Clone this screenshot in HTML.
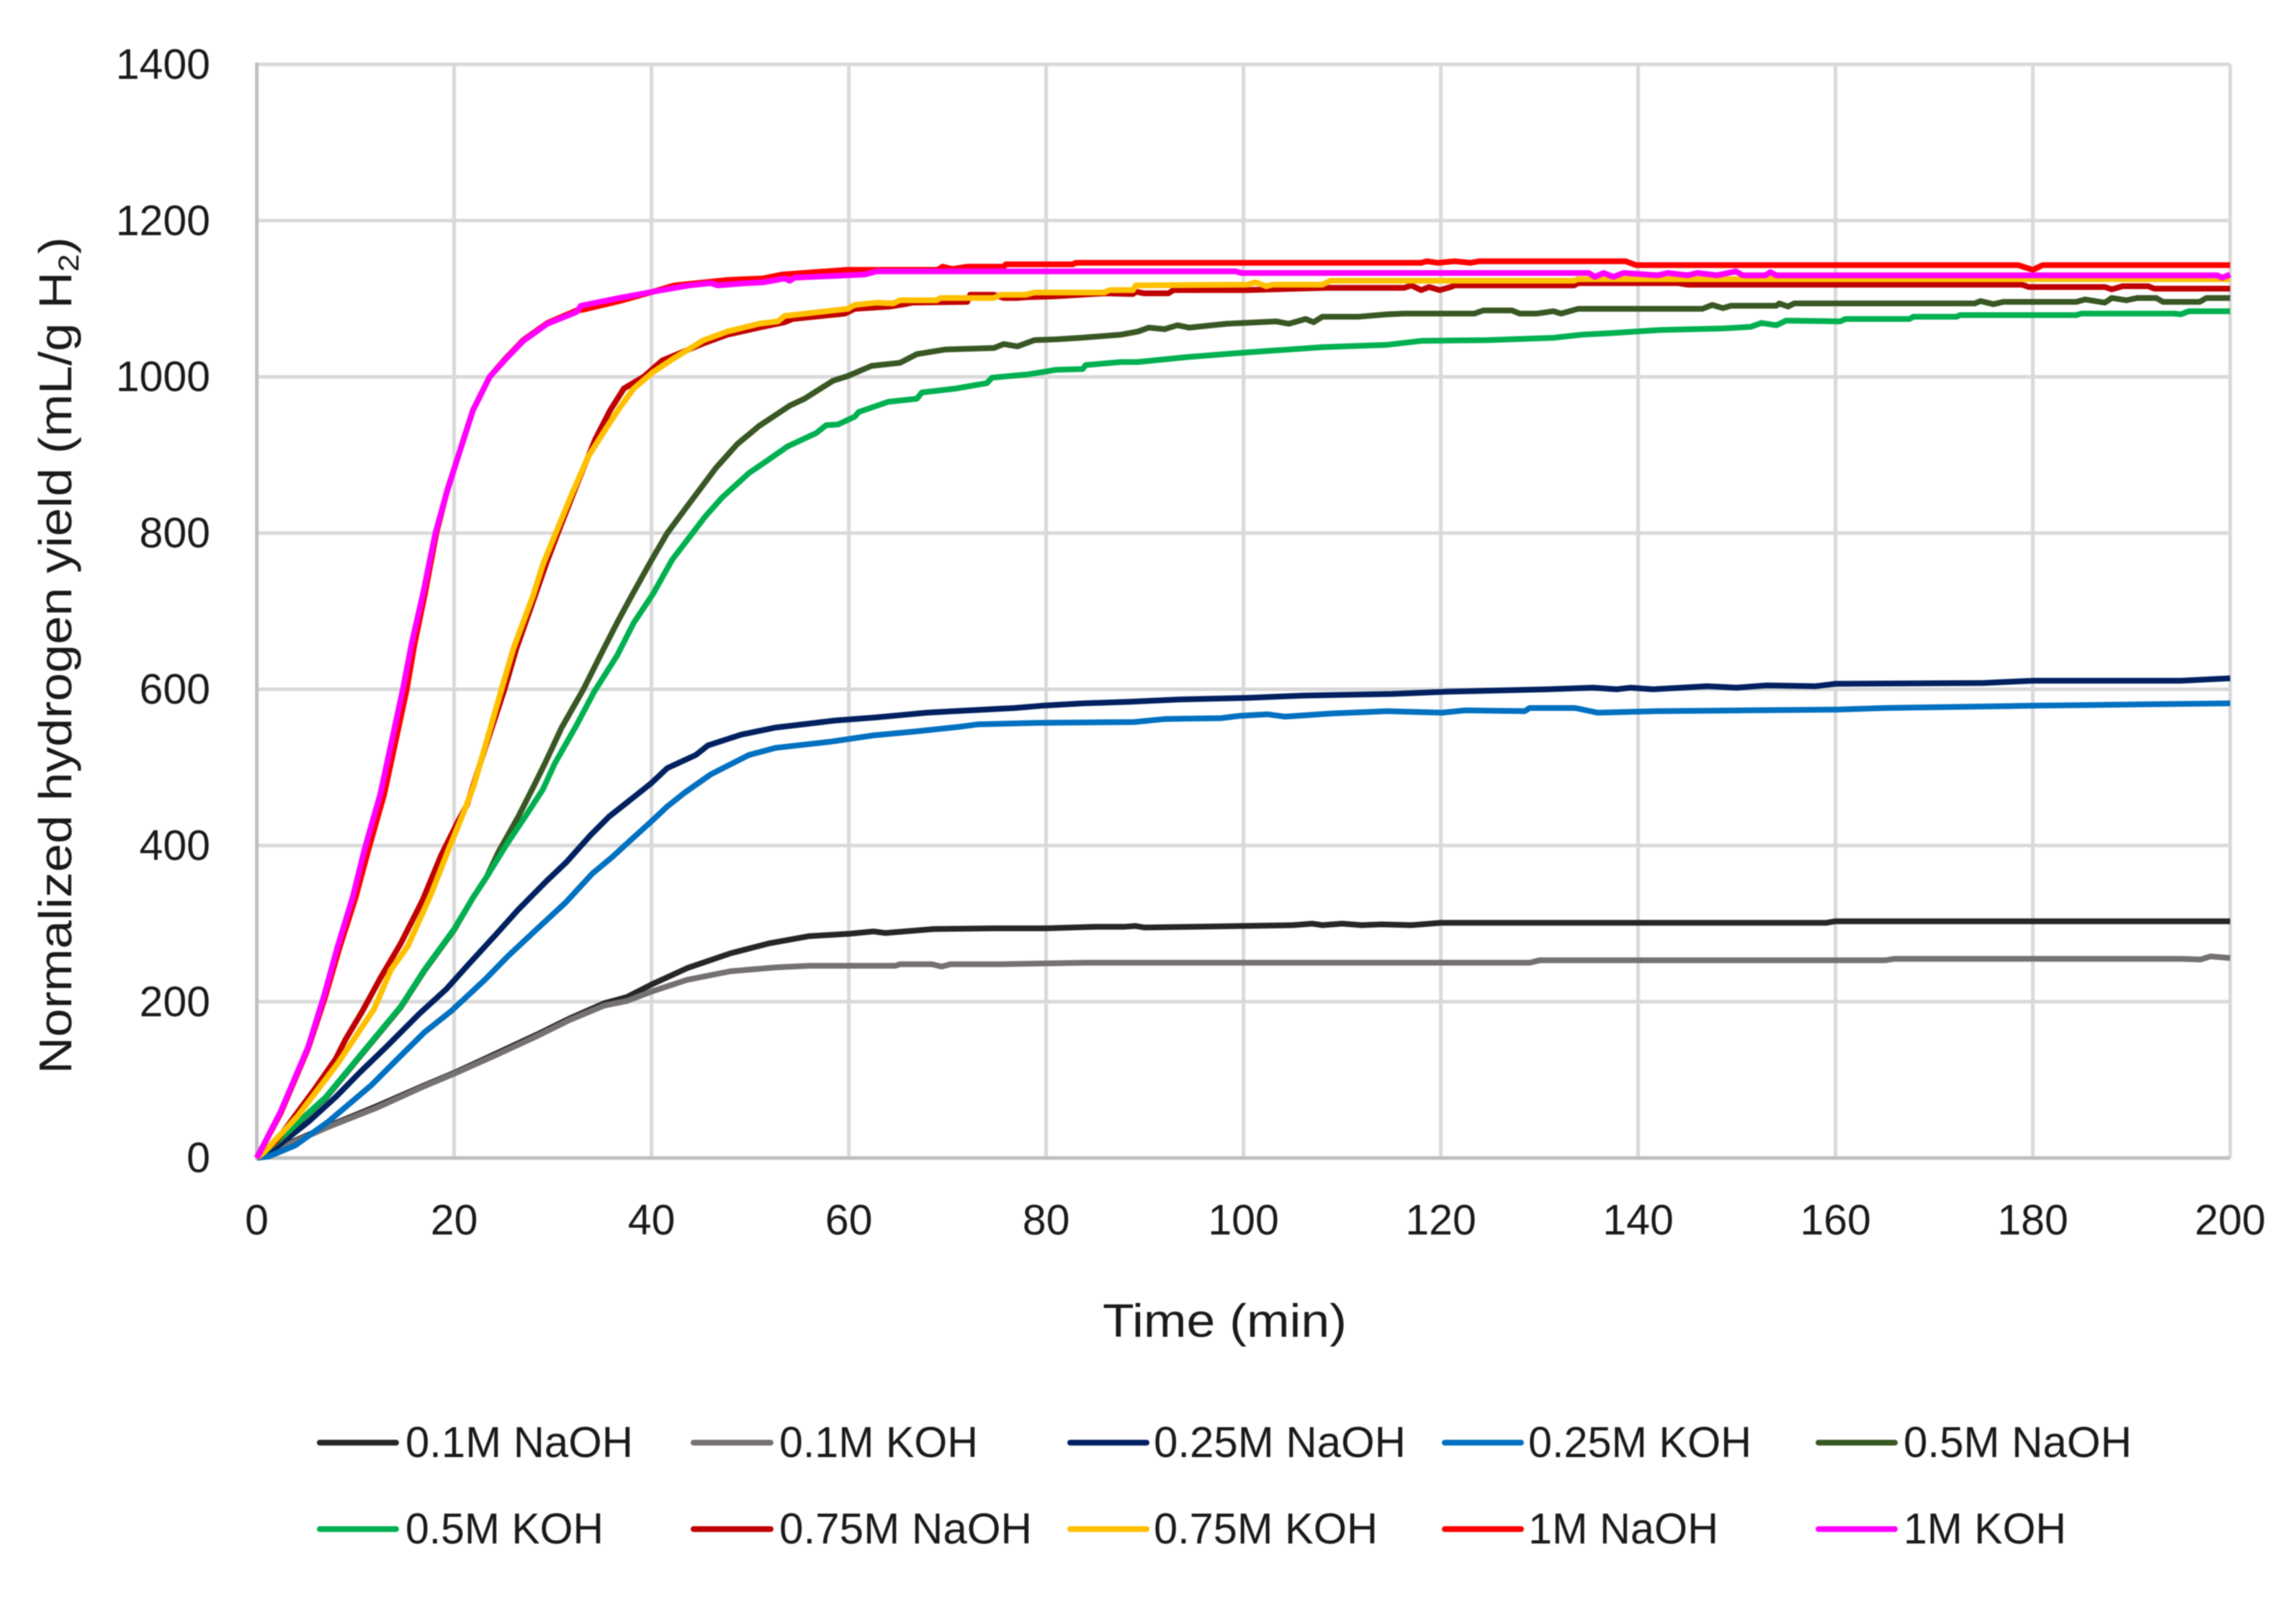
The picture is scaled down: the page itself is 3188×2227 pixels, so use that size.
<!DOCTYPE html>
<html lang="en">
<head>
<meta charset="utf-8">
<title>Normalized hydrogen yield vs time</title>
<style>
html,body{margin:0;padding:0;background:#fff;}
svg{display:block;filter:blur(0.8px);}
text{font-family:"Liberation Sans",sans-serif;fill:#1a1a1a;}
</style>
</head>
<body>
<svg id="chart" xmlns="http://www.w3.org/2000/svg" width="3188" height="2227" viewBox="0 0 3188 2227">
  <rect x="0" y="0" width="3188" height="2227" fill="#ffffff"/>
  <g id="grid"></g>
  <g id="axes"></g>
  <g id="yticks"></g>
  <g id="xticks"></g>
  <g id="series"></g>

  <text transform="translate(99,1491) rotate(-90)" font-size="64" textLength="1162" lengthAdjust="spacingAndGlyphs">Normalized hydrogen yield (mL/g H<tspan font-size="40" dy="10">2</tspan><tspan dy="-10">)</tspan></text>
  <text x="1531" y="1856" font-size="65" textLength="339" lengthAdjust="spacingAndGlyphs">Time (min)</text>

  <g font-size="60">
    <g>
      <line x1="444" y1="2003" x2="550" y2="2003" stroke="#262626" stroke-width="8" stroke-linecap="round"/>
      <text x="563" y="2023" textLength="316" lengthAdjust="spacingAndGlyphs">0.1M NaOH</text>
    </g>
    <g>
      <line x1="963" y1="2003" x2="1070" y2="2003" stroke="#767171" stroke-width="8" stroke-linecap="round"/>
      <text x="1082" y="2023" textLength="276" lengthAdjust="spacingAndGlyphs">0.1M KOH</text>
    </g>
    <g>
      <line x1="1486" y1="2003" x2="1592" y2="2003" stroke="#002060" stroke-width="8" stroke-linecap="round"/>
      <text x="1602" y="2023" textLength="350" lengthAdjust="spacingAndGlyphs">0.25M NaOH</text>
    </g>
    <g>
      <line x1="2006" y1="2003" x2="2112" y2="2003" stroke="#0070c0" stroke-width="8" stroke-linecap="round"/>
      <text x="2122" y="2023" textLength="310" lengthAdjust="spacingAndGlyphs">0.25M KOH</text>
    </g>
    <g>
      <line x1="2525" y1="2003" x2="2631" y2="2003" stroke="#385723" stroke-width="8" stroke-linecap="round"/>
      <text x="2643" y="2023" textLength="317" lengthAdjust="spacingAndGlyphs">0.5M NaOH</text>
    </g>
    <g>
      <line x1="444" y1="2123" x2="550" y2="2123" stroke="#00b050" stroke-width="8" stroke-linecap="round"/>
      <text x="563" y="2143" textLength="275" lengthAdjust="spacingAndGlyphs">0.5M KOH</text>
    </g>
    <g>
      <line x1="963" y1="2123" x2="1070" y2="2123" stroke="#c00000" stroke-width="8" stroke-linecap="round"/>
      <text x="1082" y="2143" textLength="351" lengthAdjust="spacingAndGlyphs">0.75M NaOH</text>
    </g>
    <g>
      <line x1="1486" y1="2123" x2="1592" y2="2123" stroke="#ffc000" stroke-width="8" stroke-linecap="round"/>
      <text x="1602" y="2143" textLength="311" lengthAdjust="spacingAndGlyphs">0.75M KOH</text>
    </g>
    <g>
      <line x1="2006" y1="2123" x2="2112" y2="2123" stroke="#ff0000" stroke-width="8" stroke-linecap="round"/>
      <text x="2122" y="2143" textLength="264" lengthAdjust="spacingAndGlyphs">1M NaOH</text>
    </g>
    <g>
      <line x1="2525" y1="2123" x2="2631" y2="2123" stroke="#ff00ff" stroke-width="8" stroke-linecap="round"/>
      <text x="2643" y="2143" textLength="226" lengthAdjust="spacingAndGlyphs">1M KOH</text>
    </g>
  </g>
</svg>

<script>
// Axis tick labels
const xTickLabels = [0, 20, 40, 60, 80, 100, 120, 140, 160, 180, 200];
const yTickLabels = [0, 200, 400, 600, 800, 1000, 1200, 1400];

// Series as [time (min), yield (mL/g H2)] readings
const naoh01 = [[0,0],[3.85,22],[7.3,41],[12.1,66],[17,93],[20.2,110],[24.3,134],[28.4,158],[31.6,178],[35.2,198],[37.5,206],[40,222],[43.6,243],[48,262],[52,275],[56,284],[60.1,287],[62.5,290],[63.7,288],[68.6,293],[74.7,294],[80,294],[85,296],[88,296],[89,297],[90,295],[100,297],[105,298],[107,300],[108,298],[110,300],[112,298],[114,299],[117,298],[120,301],[159,301],[160,303],[200,303]];
const koh01 = [[0,0],[3.85,21],[7.3,40],[12.1,64],[17,92],[20.2,109],[24.3,132],[28.4,156],[31.6,176],[35.2,195],[37.5,201],[40,213],[43.6,228],[48,239],[52.6,244],[56,246],[64.7,246],[65.2,248],[68.4,248],[69.4,245],[70.3,248],[75.4,248],[84,250],[129,250],[130,253],[165,253],[166,255],[195,255],[197,254],[198,258],[200,256]];
const naoh025 = [[0,0],[2,14],[5.3,47],[8,78],[10.4,109],[13.1,142],[16.5,185],[19.2,216],[21.4,247],[24.3,287],[26.5,318],[29.4,355],[31.4,379],[33.8,413],[35.7,437],[37.5,455],[40,480],[41.6,499],[44.5,516],[45.7,528],[49.1,542],[52.6,551],[58.6,560],[62.8,564],[67.9,570],[70.7,572],[76.8,576],[79.6,579],[83.8,582],[88.4,584],[93.5,587],[100.5,589],[106.1,592],[115,594],[120.8,597],[130.8,600],[135.4,602],[137.8,600],[139.2,602],[141.5,600],[147,604],[150,602],[153,605],[158,604],[160,607],[175,608],[180,611],[195,611],[200,614]];
const koh025 = [[0,0],[1.2,2],[3.9,16],[7.3,47],[11.6,93],[13.8,121],[17,161],[19.7,188],[23.1,228],[25.5,259],[28.9,299],[31.3,327],[34,364],[36,385],[37.9,407],[40,431],[41.6,450],[43.3,467],[46,491],[47.7,502],[49.9,516],[52.6,525],[58.2,533],[62.5,541],[66.7,546],[71.2,552],[73,555],[79.1,557],[88.9,558],[92.1,562],[97.7,563],[99.6,566],[102.4,568],[104.2,565],[108.9,569],[114.5,572],[120.1,570],[122.4,573],[128.5,572],[129,576],[133.6,576],[135.9,570],[141.9,572],[160,574],[165,576],[180,579],[200,582]];
const naoh05 = [[0,0],[2.4,24],[7,77],[10.2,126],[14.6,193],[17,240],[20,292],[21.9,333],[23.3,360],[24.5,392],[26.5,437],[28.1,477],[29.2,505],[30.9,551],[33.1,600],[34.8,643],[36.5,685],[38,720],[39.9,763],[41.6,800],[43.6,834],[46.5,883],[48.7,914],[50.9,937],[54,963],[55.5,972],[58.4,995],[59.9,1001],[62.3,1014],[65.2,1018],[66.9,1029],[69.8,1035],[74.7,1037],[75.7,1042],[77.1,1039],[78.8,1047],[81,1048],[83.5,1050],[87.6,1054],[89.3,1058],[90.4,1063],[92,1061],[93.3,1066],[94.5,1063],[98.3,1068],[103.3,1071],[104.6,1068],[106.3,1074],[107.1,1070],[108,1077],[111.7,1077],[114.6,1080],[116.3,1081],[123.4,1081],[124.3,1085],[127.2,1085],[128,1081],[129.7,1081],[131.4,1084],[132.2,1081],[133.9,1087],[146.5,1087],[147.5,1092],[148.6,1088],[149.4,1091],[154,1091],[154.3,1094],[155.2,1090],[155.8,1094],[174.1,1094],[174.7,1097],[176,1093],[177,1096],[184.4,1096],[185.3,1099],[187.3,1095],[188,1101],[189.5,1098],[190.6,1101],[192.5,1101],[193.2,1096],[196.9,1096],[197.6,1101],[200,1101]];
const koh05 = [[0,0],[2.4,25],[7,78],[10.2,127],[14.6,194],[17,241],[20,293],[21.9,333],[23.3,360],[25.3,401],[27.2,437],[29,472],[30.2,505],[32.4,554],[34.2,597],[36.5,643],[38.2,685],[40.2,723],[42.1,766],[43.8,794],[45.5,822],[47.2,846],[49.9,877],[51.3,889],[53.8,911],[56.7,928],[57.7,938],[58.9,939],[60.6,949],[61,955],[64,968],[66.9,972],[67.4,980],[70.8,985],[74,992],[74.5,999],[78.1,1003],[81,1009],[83.7,1010],[84,1015],[87.6,1019],[89.3,1019],[94,1025],[100,1031],[108,1038],[114.6,1041],[118,1046],[124.7,1047],[131.4,1050],[134.3,1054],[137.3,1056],[142.3,1060],[148.6,1062],[151.4,1064],[152.5,1069],[154,1066],[155,1072],[160.5,1071],[161,1074],[167.5,1074],[167.9,1077],[172.3,1077],[172.6,1079],[184.4,1079],[184.9,1081],[194.3,1081],[195,1080],[195.8,1084],[200,1084]];
const naoh075 = [[0,0],[2,22],[5.8,87],[8,127],[9,152],[10.7,188],[12.6,232],[14.6,275],[16.8,330],[18.7,388],[20.4,431],[21.3,452],[23.2,527],[25.1,600],[26.3,652],[28.2,720],[29.3,760],[30.5,800],[32.4,861],[34.3,920],[35.8,957],[37.2,985],[39.2,1000],[41.1,1021],[45.3,1043],[47.7,1054],[50.9,1063],[53.5,1070],[54.3,1074],[59.6,1081],[60.6,1087],[64.2,1090],[65.7,1093],[66.4,1095],[72,1096],[72.3,1105],[74.7,1105],[75.7,1101],[77.1,1101],[78.1,1102],[80.8,1103],[85.9,1107],[88.8,1106],[89.1,1109],[89.9,1107],[92.4,1107],[92.9,1111],[100.4,1111],[108.4,1114],[116.3,1114],[117,1117],[118,1111],[118.8,1115],[119.9,1111],[121,1115],[121.4,1117],[133.5,1117],[133.9,1120],[144,1120],[145,1118],[178.9,1118],[179.6,1115],[187.3,1115],[188,1112],[189.1,1116],[191.7,1116],[192.3,1113],[200,1113]];
const koh075 = [[0,0],[0.7,7],[4.1,53],[8.2,121],[11.9,191],[13.6,241],[15.3,271],[17.7,339],[19.4,394],[20.6,431],[21.2,450],[22,477],[24.8,600],[26,652],[28,720],[29,760],[30.3,800],[31.9,849],[33.6,898],[35.3,932],[36.75,960],[38.2,985],[40.15,1006],[42.3,1024],[45.3,1047],[47.7,1058],[50.9,1068],[52.8,1071],[53.5,1078],[59.9,1087],[60.6,1092],[62.8,1095],[64.5,1094],[65.2,1098],[68.9,1098],[69.3,1101],[74.7,1101],[75.4,1105],[77.9,1105],[78.8,1108],[85.9,1108],[86.4,1111],[88.8,1111],[89.1,1117],[100.4,1118],[101.2,1121],[102.3,1116],[103,1118],[108,1118],[108.8,1123],[133.5,1123],[133.9,1125],[200,1125]];
const naoh1 = [[0,0],[2.4,57],[5.2,140],[6.9,205],[8.4,270],[10,333],[11.3,394],[12.1,430],[12.9,465],[15.2,600],[16,659],[17,720],[18.2,800],[19.3,855],[20.4,898],[21.9,957],[23.6,1000],[25.1,1022],[27,1047],[29.45,1069],[32.4,1085],[33.1,1086],[36.75,1097],[40.15,1109],[42.3,1117],[47.7,1124],[51.3,1126],[53.3,1131],[59.9,1137],[69,1137],[69.5,1141],[70.5,1138],[72,1141],[75.7,1141],[75.9,1144],[82.7,1144],[83,1146],[118,1146],[118.6,1148],[119.7,1146],[121.4,1148],[123,1146],[123.9,1148],[138.7,1148],[139.8,1143],[178.5,1143],[180,1137],[181,1143],[200,1143]];
const koh1 = [[0,0],[2.4,59],[5.2,142],[6.8,207],[8.2,271],[9.7,333],[10.9,394],[11.7,430],[12.5,465],[14.8,600],[15.7,659],[16.8,720],[18.1,800],[19.2,850],[20.4,898],[21.9,957],[23.6,1000],[25.1,1021],[27,1046],[29.45,1068],[32.4,1083],[32.85,1091],[36.75,1101],[40.15,1109],[43.8,1117],[46,1120],[46.7,1117],[49.6,1120],[51.3,1121],[53.5,1126],[54,1123],[54.5,1127],[61.6,1131],[62.8,1135],[99.2,1135],[99.8,1133],[135,1133],[135.6,1128],[136.5,1133],[137.5,1128],[138.5,1133],[142,1130],[143,1133],[145,1130],[146,1133],[148,1130],[149.9,1135],[150.6,1130],[152.9,1130],[153.4,1134],[154,1130],[198.7,1130],[199.2,1127],[200,1131]];

const colorNaoh01 = '#262626';
const colorKoh01 = '#767171';
const colorNaoh025 = '#002060';
const colorKoh025 = '#0070c0';
const colorNaoh05 = '#385723';
const colorKoh05 = '#00b050';
const colorNaoh075 = '#c00000';
const colorKoh075 = '#ffc000';
const colorNaoh1 = '#ff0000';
const colorKoh1 = '#ff00ff';

const SVGNS = 'http://www.w3.org/2000/svg';
const xScale = function (t) { return 356.6 + (t / 200) * 2740; };
const yScale = function (v) { return 1607.7 - (v / 1400) * 1518.3; };

function make(tag, parentId) {
  const el = document.createElementNS(SVGNS, tag);
  document.getElementById(parentId).appendChild(el);
  return el;
}
function setLine(el, x1, y1, x2, y2, color, width) {
  el.setAttribute('x1', x1);
  el.setAttribute('y1', y1);
  el.setAttribute('x2', x2);
  el.setAttribute('y2', y2);
  el.setAttribute('stroke', color);
  el.setAttribute('stroke-width', width);
}

yTickLabels.forEach(function (v) {
  if (v !== 0) {
    const g = make('line', 'grid');
    
    
    setLine(g, xScale(0), yScale(v), xScale(200), yScale(v), '#d9d9d9', 5);
  }
  const t = make('text', 'yticks');
  
  
  t.setAttribute('x', 292);
  t.setAttribute('y', yScale(v) + 20);
  t.setAttribute('text-anchor', 'end');
  t.setAttribute('font-size', 59);
  t.textContent = v;
});

xTickLabels.forEach(function (v) {
  if (v !== 0) {
    const g = make('line', 'grid');
    
    
    setLine(g, xScale(v), yScale(0), xScale(v), yScale(1400), '#d9d9d9', 5);
  }
  const t = make('text', 'xticks');
  
  
  t.setAttribute('x', xScale(v));
  t.setAttribute('y', 1714);
  t.setAttribute('text-anchor', 'middle');
  t.setAttribute('font-size', 59);
  t.textContent = v;
});

const axisY = make('line', 'axes');


setLine(axisY, xScale(0), yScale(0) + 2.5, xScale(0), yScale(1400) - 2.5, '#bfbfbf', 5);

const axisX = make('line', 'axes');


setLine(axisX, xScale(0), yScale(0), xScale(200), yScale(0), '#bfbfbf', 5);

function drawSeries(points, color, name) {
  const p = make('path', 'series');
  
  
  const d = points.map(function (pt, i) {
    return (i ? 'L' : 'M') + xScale(pt[0]).toFixed(1) + ' ' + yScale(pt[1]).toFixed(1);
  }).join('');
  p.setAttribute('d', d);
  p.setAttribute('fill', 'none');
  p.setAttribute('stroke', color);
  p.setAttribute('stroke-width', 8);
  p.setAttribute('stroke-linejoin', 'round');
  p.setAttribute('stroke-linecap', 'butt');
}

drawSeries(naoh01, colorNaoh01, 'series-0-1m-naoh');
drawSeries(koh01, colorKoh01, 'series-0-1m-koh');
drawSeries(naoh025, colorNaoh025, 'series-0-25m-naoh');
drawSeries(koh025, colorKoh025, 'series-0-25m-koh');
drawSeries(naoh05, colorNaoh05, 'series-0-5m-naoh');
drawSeries(koh05, colorKoh05, 'series-0-5m-koh');
drawSeries(naoh075, colorNaoh075, 'series-0-75m-naoh');
drawSeries(koh075, colorKoh075, 'series-0-75m-koh');
drawSeries(naoh1, colorNaoh1, 'series-1m-naoh');
drawSeries(koh1, colorKoh1, 'series-1m-koh');
</script>
</body>
</html>
